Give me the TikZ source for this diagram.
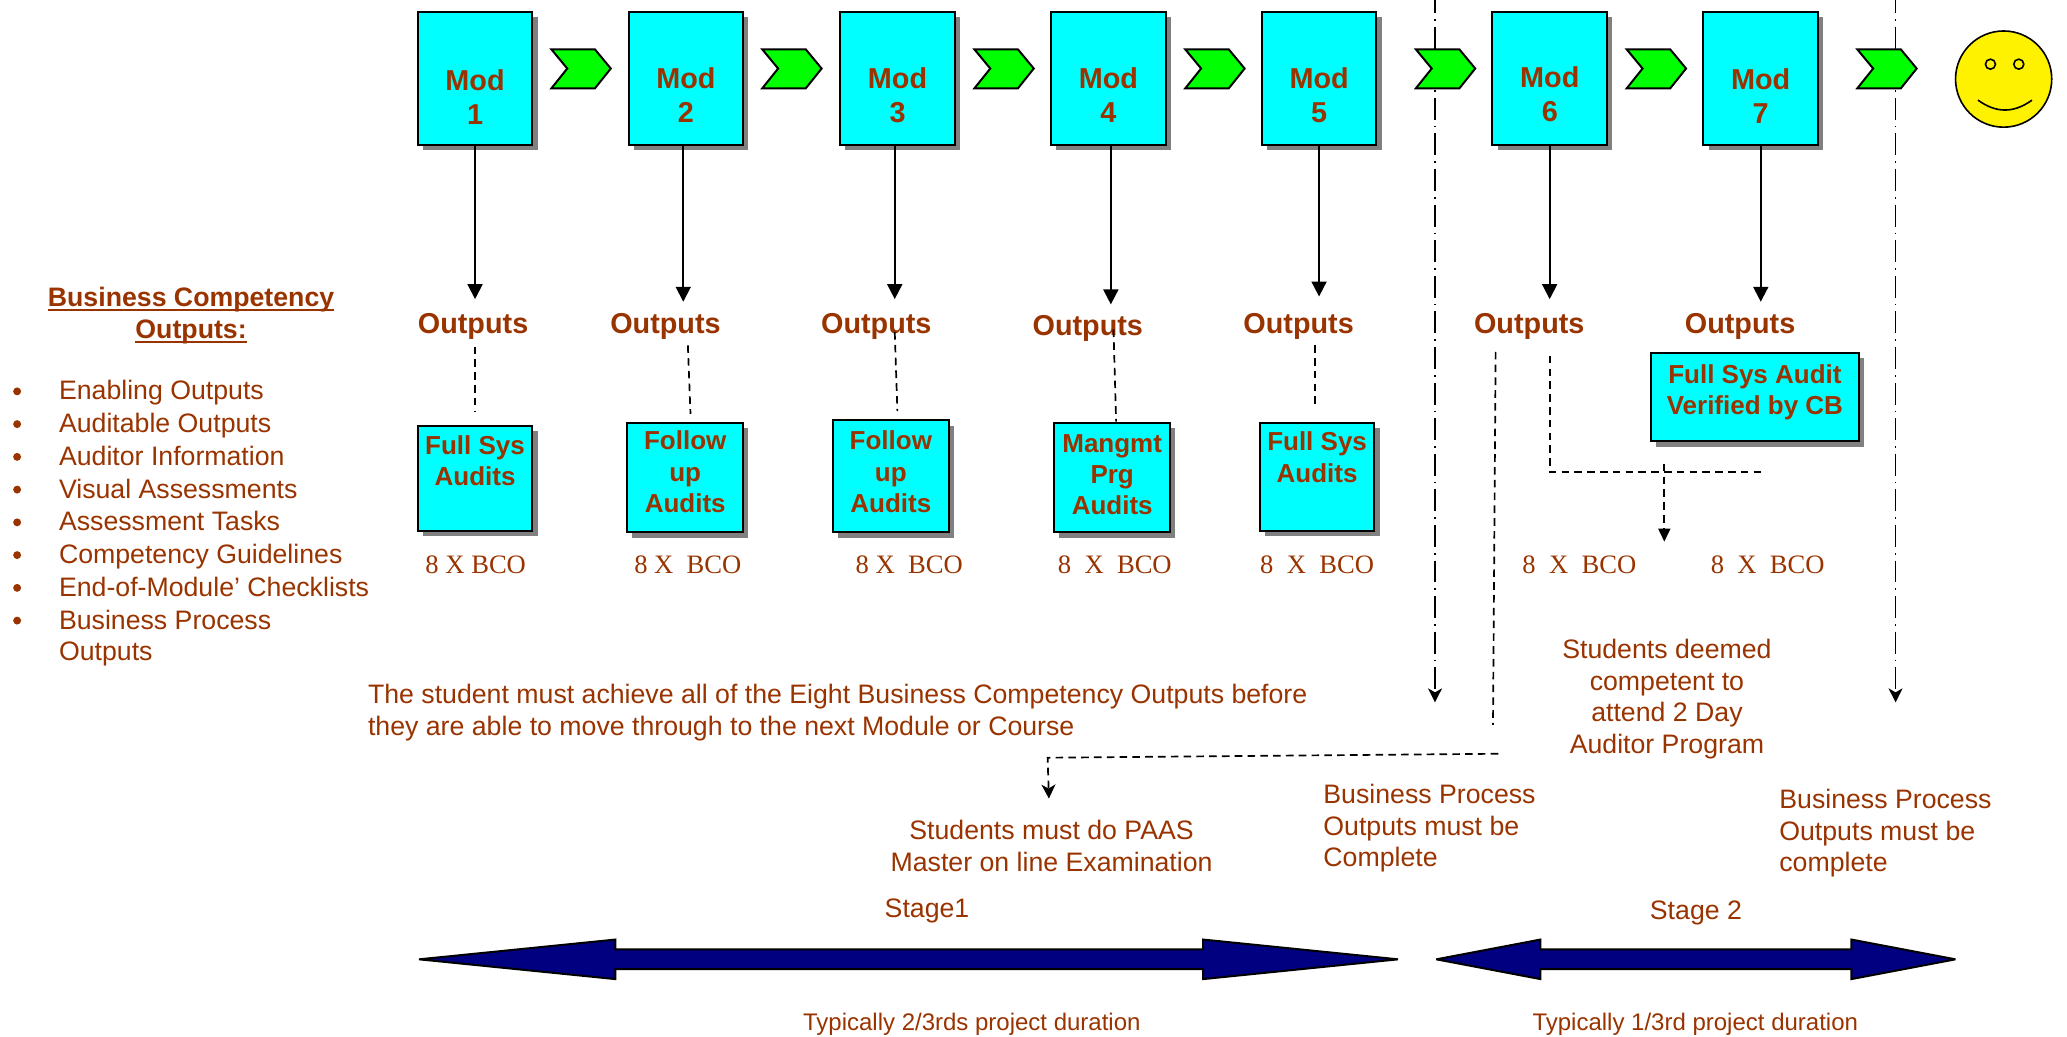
\documentclass[tikz,border=0pt]{standalone}
\usepackage{fontspec}
\setmainfont{Liberation Sans}
\newfontfamily\serifbco{Liberation Serif}
\usetikzlibrary{arrows.meta,shadows}
\definecolor{brn}{HTML}{993300}
\definecolor{cyanbox}{HTML}{00FFFF}
\definecolor{greenchev}{HTML}{00FF00}
\definecolor{shadowgray}{HTML}{808080}
\definecolor{navyarrow}{HTML}{000080}
\newcommand{\ulbar}[1]{{\setbox0\hbox{#1}\rlap{\vrule width\wd0 height -1.3pt depth 2.1pt}\box0}}
\tikzset{
  x=0.659pt,y=-0.659pt,
  boxed/.style={draw=black,line width=1pt,fill=cyanbox,anchor=north west,inner sep=0pt,outer sep=0pt,
    drop shadow={shadow xshift=2.6pt,shadow yshift=-2.6pt,fill=shadowgray,opacity=1}},
  boxtext/.style={text=brn,align=center,inner sep=0pt,font=\fontsize{13}{15.6}\selectfont\bfseries},
  modtext/.style={text=brn,align=center,inner sep=0pt,font=\fontsize{14.4}{17}\selectfont\bfseries},
  outtext/.style={text=brn,inner sep=0pt,font=\fontsize{14.4}{17}\selectfont\bfseries},
  plain/.style={text=brn,inner sep=0pt,font=\fontsize{13.35}{15.8}\selectfont},
  small/.style={text=brn,inner sep=0pt,font=\fontsize{12}{14}\selectfont},
  bco/.style={text=brn,inner sep=0pt,font=\fontsize{13.3}{16}\selectfont\serifbco},
  chevron/.style={draw=black,line width=1pt,fill=greenchev,line join=miter,miter limit=4},
  solidarrow/.style={draw=black,line width=0.95pt,-{Triangle[length=7.5pt,width=7.5pt]}},
  dashedline/.style={draw=black,line width=0.85pt,dash pattern=on 3.8pt off 2.6pt},
  dasharrow/.style={dashedline,-{Triangle[length=6.5pt,width=6pt]}},
  dashstealth/.style={dashedline,-{Stealth[length=7pt,width=7pt,inset=2pt]}},
  dashdot/.style={draw=black,line width=0.8pt,dash pattern=on 11pt off 3pt on 0.8pt off 3pt,dash phase=4.5pt,-{Stealth[length=7pt,width=7pt,inset=2pt]}},
  bigarrow/.style={draw=black,line width=1pt,fill=navyarrow,line join=miter,miter limit=3},
}
\newcommand{\modbox}[4]{% name, x, text y, label
  \node[boxed,minimum width=57.3pt,minimum height=66.5pt] (#1) at (#2,9) {};
  \node[modtext] (#1t) at (#2+43.5,#3) {Mod\\#4};
}
\newcommand{\auditbox}[7]{% name x1 y1 x2 y2 text ycentre
  \pgfmathsetmacro{\bw}{(#4-#2)*0.659}\pgfmathsetmacro{\bh}{(#5-#3)*0.659}
  \pgfmathsetmacro{\bx}{(#2+#4)/2}
  \node[boxed,minimum width=\bw pt,minimum height=\bh pt] (#1) at (#2,#3) {};
  \node[boxtext] (#1t) at (\bx,#7) {#6};
}
\newcommand{\chev}[2]{% name, left x
  \draw[chevron] (#2,37.5) -- (#2+33,37.5) -- (#2+45,52) -- (#2+33,67) -- (#2,67) -- (#2+12,52) -- cycle;
  \coordinate (#1) at (#2+22,52);
}
\begin{document}
\begin{tikzpicture}
\useasboundingbox (0,0) rectangle (1568.6,786.2);
% stage boundaries
\coordinate (s1a) at (1089,0); \coordinate (s1b) at (1089,533);
\coordinate (s2a) at (1438.5,0); \coordinate (s2b) at (1438.5,533);
\draw[dashdot] (s1a) -- (s1b);
\draw[dashdot] (s2a) -- (s2b);
% modules
\modbox{m1}{317}{73.5}{1}
\modbox{m2}{477}{72.5}{2}
\modbox{m3}{637.6}{72.5}{3}
\modbox{m4}{797.6}{72.5}{4}
\modbox{m5}{957.6}{72.5}{5}
\modbox{m6}{1132.6}{71.5}{6}
\modbox{m7}{1292.6}{73}{7}
% chevrons
\chev{c1}{418.5}\chev{c2}{578.5}\chev{c3}{739.5}\chev{c4}{899.5}\chev{c5}{1074.5}\chev{c6}{1234.5}\chev{c7}{1409.5}
% smiley
\draw[fill=yellow,line width=0.8pt] (1520.5,60) ellipse [x radius=36.5,y radius=36.5];
\draw[line width=0.8pt] (1510.5,48.7) circle [radius=3.8];
\draw[line width=0.8pt] (1532,48.7) circle [radius=3.8];
\draw[line width=0.8pt] (1501,76) .. controls (1515,86) and (1528,86) .. (1542,76);
% outputs labels
\node[outtext] (o1) at (359,247.5) {Outputs};
\node[outtext] (o2) at (505,247.5) {Outputs};
\node[outtext] (o3) at (665,247.5) {Outputs};
\node[outtext] (o4) at (825.5,249.5) {Outputs};
\node[outtext] (o5) at (985.5,247.5) {Outputs};
\node[outtext] (o6) at (1160.5,247.5) {Outputs};
\node[outtext] (o7) at (1320.5,247.5) {Outputs};
% solid arrows
\foreach \n/\x/\y in {1/360.5/227,2/518.5/229,3/679/227,4/843/231,5/1001/225,6/1176/227,7/1336.2/229}{
  \coordinate (e\n) at (\x,\y);
  \draw[solidarrow] (m\n.south -| e\n) -- (e\n);
}
% audit boxes
\auditbox{a1}{317}{323}{404}{403}{Full Sys\\Audits}{349.5}
\auditbox{a2}{476}{321}{564}{404}{Follow\\up\\Audits}{358}
\auditbox{a3}{632}{319}{720}{404}{Follow\\up\\Audits}{358}
\auditbox{a4}{800}{321}{888}{404}{Mangmt\\Prg\\Audits}{360}
\auditbox{a5}{956}{321}{1043}{403}{Full Sys\\Audits}{347}
\auditbox{a7}{1253}{268}{1410.5}{335}{Full Sys Audit\\Verified by CB}{297.5}
% dashed links
\coordinate (d1) at (360.2,263);\coordinate (d2) at (522,262);\coordinate (d3) at (679,252);\coordinate (d4) at (845,250);\coordinate (d5) at (998,262);
\draw[dashedline] (d1) -- (360.2,312);
\draw[dashedline] (d2) -- (524,314);
\draw[dashedline] (d3) -- (681,312);
\draw[dashedline] (d4) -- (847,320);
\draw[dashedline] (d5) -- (998,310);
\coordinate (j1) at (1176,270);\coordinate (j2) at (1176,358);\coordinate (j3) at (1337,358);
\coordinate (k1) at (1263,352);\coordinate (k2) at (1263,411);
\draw[dashedline] (j1) -- (j2) -- (j3);
\draw[dasharrow] (k1) -- (k2);
\coordinate (p1) at (1135,267);\coordinate (p2) at (1133,550);
\draw[dashedline] (p1) -- (p2);
\coordinate (q1) at (1137,572);\coordinate (q2) at (795,575);\coordinate (q3) at (796,606);
\draw[dashstealth] (q1) -- (q2) -- (q3);
% 8 X BCO
\node[bco] (b1) at (361,428.5) {8 X BCO};
\node[bco] (b2) at (522,428.5) {8 X\ \ BCO};
\node[bco] (b3) at (690,428.5) {8 X\ \ BCO};
\node[bco] (b4) at (846,428.5) {8\ \ X\ \ BCO};
\node[bco] (b5) at (999.5,428.5) {8\ \ X\ \ BCO};
\node[bco] (b6) at (1198.5,428.5) {8\ \ X\ \ BCO};
\node[bco] (b7) at (1341.5,428.5) {8\ \ X\ \ BCO};
% left list
\node[text=brn,align=center,inner sep=0pt,font=\fontsize{13.35}{15.8}\selectfont\bfseries] (title) at (145,239.5) {\ulbar{Business Competency}\\\ulbar{Outputs:}};
\foreach \t [count=\i] in {Enabling Outputs,Auditable Outputs,Auditor Information,Visual Assessments,Assessment Tasks,Competency Guidelines,End-of-Module’ Checklists,Business Process}{
  \pgfmathsetmacro{\yy}{303.5+(\i-1)*24.85}
  \node[plain,anchor=base west] (l\i) at (44.5,\yy) {\t};
  \fill[brn] (13,\yy-6.5) circle [radius=3];
}
\node[plain,anchor=base west] (l9) at (44.5,501.5) {Outputs};
% notes
\node[plain,anchor=north west,align=left] (n1) at (279,519) {The student must achieve all of the Eight Business Competency Outputs before\\they are able to move through to the next Module or Course};
\node[plain,align=center] (n2) at (798,642) {Students must do PAAS\\Master on line Examination};
\node[plain,align=left,anchor=west] (n3) at (1004,628.5) {Business Process\\Outputs must be\\Complete};
\node[plain,align=center] (n4) at (1265,530.5) {Students deemed\\competent to\\attend 2 Day\\Auditor Program};
\node[plain,align=left,anchor=west] (n5) at (1350,632.5) {Business Process\\Outputs must be\\complete};
\node[plain] (st1) at (703.5,691) {Stage1};
\node[plain] (st2) at (1287,692.5) {Stage 2};
\node[small] (t1) at (737.5,777) {Typically 2/3rds project duration};
\node[small] (t2) at (1286.5,777) {Typically 1/3rd project duration};
% stage arrows
\draw[bigarrow] (318,728) -- (467,713) -- (467,720.5) -- (913,720.5) -- (913,713) -- (1061,728) -- (913,743) -- (913,735.5) -- (467,735.5) -- (467,743) -- cycle;
\draw[bigarrow] (1090,728) -- (1169,713) -- (1169,720.5) -- (1405,720.5) -- (1405,713) -- (1484,728) -- (1405,743) -- (1405,735.5) -- (1169,735.5) -- (1169,743) -- cycle;
\end{tikzpicture}
\end{document}
